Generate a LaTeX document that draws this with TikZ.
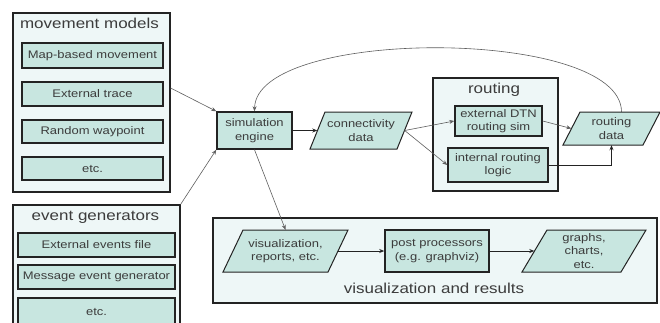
\documentclass[tikz,border=0pt]{standalone}
\usepackage{fontspec}
\setmainfont{Liberation Sans}[FakeStretch=1.18]
\usetikzlibrary{arrows.meta}
\definecolor{colInner}{RGB}{200,230,224}
\definecolor{colOuter}{RGB}{238,247,247}
\definecolor{colTxt}{RGB}{60,60,60}
\definecolor{colEdge}{RGB}{35,35,35}
\definecolor{colLine}{RGB}{95,95,95}
\tikzset{
  container/.style={draw=colEdge, line width=1.2pt, fill=colOuter, inner sep=0pt},
  ttl/.style={font=\fontsize{14.4}{16}\selectfont, text=colTxt, inner sep=0pt},
  box/.style={draw=colEdge, line width=1.5pt, fill=colInner, inner sep=0pt, align=center,
    text=colTxt, font=\fontsize{11}{13.5}\selectfont},
  parashape/.style={draw=colEdge, line width=1pt, fill=colInner},
  paratext/.style={inner sep=0pt, align=center, text=colTxt, font=\fontsize{11}{13.5}\selectfont},
  arr/.style={draw=colLine, line width=0.6pt, -{Stealth[length=5pt,width=4pt]}},
  darr/.style={draw=colEdge, line width=1pt, -{Stealth[length=5pt,width=4pt]}}
}
\newcommand\mypara[7]{%
  \filldraw[parashape] ({#2-#4/2-#6/2},{#3+#5/2}) -- ({#2+#4/2-#6/2},{#3+#5/2})
     -- ({#2+#4/2+#6/2},{#3-#5/2}) -- ({#2-#4/2+#6/2},{#3-#5/2}) -- cycle;
  \node[paratext, minimum width=#4, minimum height=#5] (#1) at (#2,#3) {#7};}
\begin{document}
\begin{tikzpicture}[x=1pt,y=-1pt]
\clip (0,0) rectangle (660,322);
\fill[white] (0,0) rectangle (660,322);
% containers
\node[container, minimum width=157, minimum height=179] (mm) at (91.5,102.5) {};
\node[container, minimum width=167, minimum height=130] (eg) at (96.5,270) {};
\node[container, minimum width=125, minimum height=113] (rt) at (495.5,134.5) {};
\node[container, minimum width=444, minimum height=85] (vr) at (435,260.5) {};
% titles
\node[ttl] (mmT) at (89.5,23) {movement models};
\node[ttl] (egT) at (95.5,217) {event generators};
\node[ttl] (rtT) at (494,90) {routing};
\node[ttl] (vrT) at (434,288) {visualization and results};
% movement models
\node[box, minimum width=141, minimum height=25] (map) at (92.5,55.5) {Map-based movement};
\node[box, minimum width=141, minimum height=24] (trace) at (92.5,94) {External trace};
\node[box, minimum width=141, minimum height=23] (rwp) at (92.5,131.5) {Random waypoint};
\node[box, minimum width=141, minimum height=23] (etcA) at (92.5,168.5) {etc.};
% event generators
\node[box, minimum width=157, minimum height=24] (eef) at (96.5,245) {External events file};
\node[box, minimum width=157, minimum height=24] (meg) at (96.5,277) {Message event generator};
\node[box, minimum width=157, minimum height=28] (etcB) at (96.5,312) {etc.};
% core
\node[box, minimum width=75, minimum height=37] (sim) at (254.5,130.5) {simulation\\engine};
\mypara{conn}{361}{130.5}{87}{37}{15}{connectivity\\data}
\node[box, minimum width=87, minimum height=30] (dtn) at (498.5,121) {external DTN\\routing sim};
\node[box, minimum width=100, minimum height=34] (irl) at (498,165) {internal routing\\logic};
\mypara{rdata}{611.5}{128.5}{80}{33}{17}{routing\\data}
% visualization
\mypara{vis}{285.5}{251}{105}{42}{20}{visualization,\\reports, etc.}
\node[box, minimum width=104, minimum height=42] (post) at (437,251) {post processors\\(e.g. graphviz)};
\mypara{graphs}{584}{251}{99}{42}{25}{graphs,\\charts,\\etc.}
% connectors
\draw[arr] ([yshift=6pt]trace.east -| mm.east) -- (sim.north west);
\draw[arr] (eg.north east) -- (sim.south west);
\draw[darr] (sim.east) -- (conn.west);
\draw[arr] (conn.east) -- (dtn.west);
\draw[arr] (conn.east) -- (irl.west);
\draw[arr] (dtn.east) -- (rdata.west);
\draw[darr] (irl.east) -| (rdata.south);
\draw[arr] ([xshift=10pt]rdata.north) .. controls (621,27) and (256,27) .. (sim.north);
\draw[arr] (sim.south) -- (vis.north);
\draw[darr] (vis.east) -- (post.west);
\draw[darr] (post.east) -- (graphs.west);
\end{tikzpicture}
\end{document}
